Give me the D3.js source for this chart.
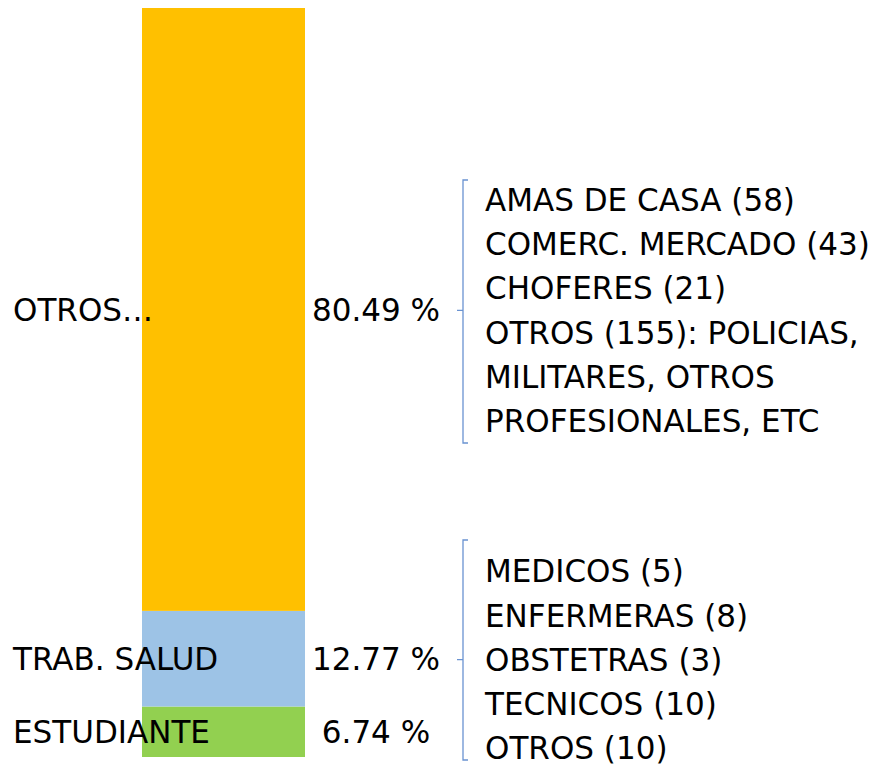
<!DOCTYPE html>
<html><head><meta charset="utf-8">
<script src="https://cdn.jsdelivr.net/npm/d3@7"></script>
<style>body{margin:0;background:#fff}svg{display:block}</style>
</head><body>
<script>
const categories = ["ESTUDIANTE", "TRAB. SALUD", "OTROS…"];
const values = [6.74, 12.77, 80.49];
const valueLabels = ["6.74 %", "12.77 %", "80.49 %"];
const colors = ["#92D050", "#9DC3E6", "#FFC000"];
const otrosDetail = ["AMAS DE CASA (58)", "COMERC. MERCADO (43)", "CHOFERES (21)", "OTROS (155): POLICIAS,", "MILITARES, OTROS", "PROFESIONALES, ETC"];
const saludDetail = ["MEDICOS (5)", "ENFERMERAS (8)", "OBSTETRAS (3)", "TECNICOS (10)", "OTROS (10)"];

const W = 876, H = 765;
const FONT = "DejaVu Sans";
const svg = d3.select("body").append("svg").attr("width", W).attr("height", H);

// fit font size to target width
const probe = svg.append("text").attr("font-family", FONT).attr("font-size", 28).text("COMERC. MERCADO (43)");
const pw = probe.node().getComputedTextLength();
probe.remove();
const fs = 28 * 385 / pw;

const y = d3.scaleLinear().domain([0, 100]).range([757, 8]);
const x = d3.scaleBand().domain(["bar"]).range([142, 305]).padding(0);

let acc = 0;
const segs = values.map((v, i) => { const s = {cat: categories[i], v, lab: valueLabels[i], c: colors[i], y0: acc, y1: acc + v}; acc += v; return s; });

svg.selectAll("rect.seg").data(segs).join("rect")
  .attr("x", x("bar")).attr("width", x.bandwidth())
  .attr("y", d => y(d.y1)).attr("height", d => y(d.y0) - y(d.y1))
  .attr("fill", d => d.c);

const mid = d => (y(d.y0) + y(d.y1)) / 2;

svg.selectAll("text.cat").data(segs).join("text")
  .attr("x", 13).attr("y", d => mid(d)).attr("dy", "0.36em")
  .attr("font-family", FONT).attr("font-size", fs).attr("fill", "#000")
  .text(d => d.cat);

svg.selectAll("text.val").data(segs).join("text")
  .attr("x", 376).attr("y", d => mid(d)).attr("dy", "0.36em")
  .attr("text-anchor", "middle")
  .attr("font-family", FONT).attr("font-size", fs).attr("fill", "#000")
  .text(d => d.lab);

function bracket(lines, center, top, bottom) {
  const bx = 463;
  svg.append("path")
    .attr("d", `M${bx+5},${top}H${bx}V${bottom}H${bx+5}M${bx},${center}H${bx-6}`)
    .attr("fill", "none").attr("stroke", "#6A93D1").attr("stroke-width", 1.3);
  const lh = 44.3;
  const start = center - (lines.length - 1) / 2 * lh;
  svg.append("g").selectAll("text").data(lines).join("text")
    .attr("x", 485).attr("y", (d, i) => start + i * lh).attr("dy", "0.36em")
    .attr("font-family", FONT).attr("font-size", fs).attr("fill", "#000")
    .text(d => d);
}
bracket(otrosDetail, mid(segs[2]) + 1, 180, 443);
bracket(saludDetail, mid(segs[1]) + 1, 540, 760);
</script>
</body></html>
